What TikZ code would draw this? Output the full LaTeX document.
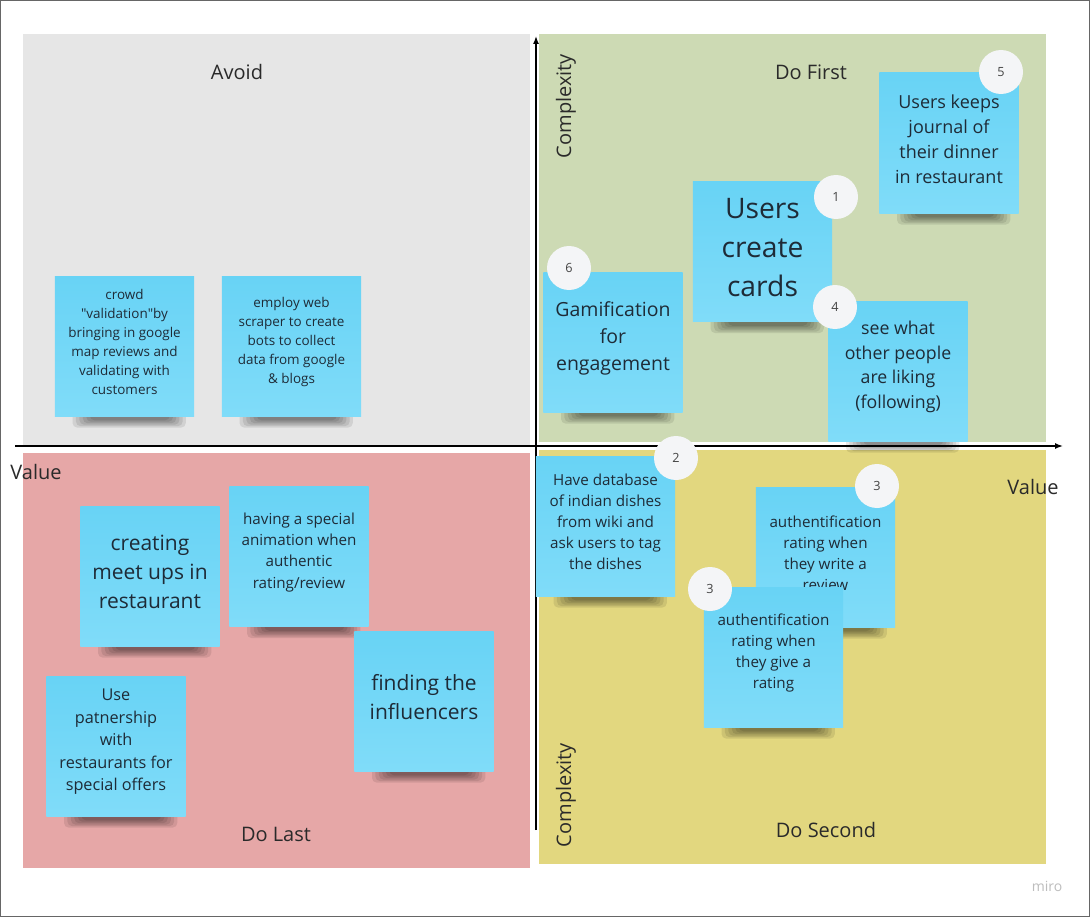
\documentclass[tikz,border=0pt]{standalone}
\usepackage{fontspec}
\setmainfont{Open Sans}
\usetikzlibrary{arrows.meta}
\pgfdeclarelayer{bglayer}
\pgfdeclarelayer{shadowlayer}
\pgfsetlayers{bglayer,shadowlayer,main}
\definecolor{avoidbg}{HTML}{E6E6E6}
\definecolor{firstbg}{HTML}{CDDAB4}
\definecolor{lastbg}{HTML}{E6A7A7}
\definecolor{secondbg}{HTML}{E2D77F}
\definecolor{notetop}{HTML}{68D3F5}
\definecolor{notebot}{HTML}{80DCF9}
\definecolor{notetxt}{HTML}{1E2B37}
\definecolor{labeltxt}{HTML}{2A2A2A}
\definecolor{badgefill}{HTML}{F4F5F7}
\definecolor{badgetxt}{HTML}{444444}
\definecolor{mirogray}{HTML}{BDBDBD}
\definecolor{framegray}{HTML}{666666}
\tikzset{
  note/.style={rectangle, inner sep=0pt, minimum width=104.5pt, minimum height=105pt,
    top color=notetop, bottom color=notebot, draw=none},
  notetext/.style={align=center, text=notetxt, inner sep=0pt},
  badge/.style={circle, fill=badgefill, minimum size=33pt, inner sep=0pt,
    text=badgetxt, font=\fontsize{9.5}{11}\selectfont},
  quadlabel/.style={text=labeltxt, inner sep=0pt, font=\fontsize{15}{18}\selectfont},
  axisline/.style={black, line width=1.1pt},
}
\newcommand{\sticky}[6]{%
  \node[note] (#1) at (#2,#3) {};
  \begin{pgfonlayer}{shadowlayer}
    \foreach \k in {0,...,5}{%
      \fill[black, opacity=0.09, rounded corners=3.5pt]
        ([xshift={-39pt+2.6pt*\k}, yshift=3pt]#1.south) rectangle
        ([xshift={46pt-2.4pt*\k}, yshift={-8.5pt+1.1pt*\k}]#1.south);
    }
  \end{pgfonlayer}
  \node[notetext, font=\fontsize{#4}{#5}\selectfont] at ([yshift=3pt]#1.center) {#6};
}
\begin{document}
\begin{tikzpicture}[x=0.75pt, y=-0.75pt]
\useasboundingbox (0,0) rectangle (1090,917);
\begin{pgfonlayer}{bglayer}
  \fill[white] (0,0) rectangle (1090,917);
  \draw[framegray, line width=1.1pt] (0.7,0.7) rectangle (1089.3,916.3);
  \fill[avoidbg] (23,34) rectangle (530,445);
  \fill[firstbg] (539,34) rectangle (1046,442);
  \fill[lastbg] (23,453) rectangle (530,868);
  \fill[secondbg] (539,450) rectangle (1046,864);
\end{pgfonlayer}

% axes
\coordinate (hstart) at (15,446);
\coordinate (hend) at (1063,446);
\coordinate (vstart) at (536,830);
\coordinate (vend) at (536,36);
\draw[axisline, -{Latex[length=6pt,width=4.5pt]}] (hstart) -- (hend);
\draw[axisline, -{Latex[length=6pt,width=4.5pt]}] (vstart) -- (vend);

% quadrant labels
\node[quadlabel] (lavoid) at (237,72) {Avoid};
\node[quadlabel] (lfirst) at (811,72) {Do First};
\node[quadlabel] (llast) at (276,834) {Do Last};
\node[quadlabel] (lsecond) at (826,830) {Do Second};
\node[quadlabel] (lvalueL) at (36,472) {Value};
\node[quadlabel] (lvalueR) at (1033,487) {Value};
\node[quadlabel, rotate=90] (lcomplexU) at (566,106) {Complexity};
\node[quadlabel, rotate=90] (lcomplexD) at (566,795) {Complexity};
\node[text=mirogray, inner sep=0pt, font=\fontsize{10.5}{12}\selectfont] (miro) at (1047,886) {miro};

% sticky notes
\sticky{n1}{124.5}{346}{10.1}{14.2}{crowd\\\textquotedbl validation\textquotedbl by\\bringing in google\\map reviews and\\validating with\\customers}
\sticky{n2}{291.5}{346}{10.1}{14.2}{employ web\\scraper to create\\bots to collect\\data from google\\\& blogs}
\sticky{n3}{762.5}{251.5}{21.2}{29.2}{Users\\create\\cards}
\sticky{n4}{613}{342}{14.6}{20.2}{Gamification\\for\\engagement}
\sticky{n5}{949}{143}{13.5}{18.7}{Users keeps\\journal of\\their dinner\\in restaurant}
\sticky{n6}{898}{371}{13.3}{18.4}{see what\\other people\\are liking\\(following)}
\sticky{n7}{605.5}{526}{11.4}{15.8}{Have database\\of indian dishes\\from wiki and\\ask users to tag\\the dishes}
\sticky{n8}{825.5}{557}{11.4}{15.8}{authentification\\rating when\\they write a\\review}
\sticky{n9}{773.5}{657}{11.4}{15.8}{authentification\\rating when\\they give a\\rating}
\sticky{n10}{150}{576}{15.75}{21.8}{creating\\meet ups in\\restaurant}
\sticky{n11}{299}{556.5}{11.4}{15.8}{having a special\\animation when\\authentic\\rating/review}
\sticky{n12}{424}{701}{15.75}{21.8}{finding the\\influencers}
\sticky{n13}{116}{746}{12.2}{16.9}{Use\\patnership\\with\\restaurants for\\special offers}

% badges
\node[badge] (b1) at (836,197) {1};
\node[badge] (b5) at (1001,72) {5};
\node[badge] (b6) at (569,268) {6};
\node[badge] (b4) at (835,307) {4};
\node[badge] (b2) at (676,458) {2};
\node[badge] (b3a) at (877,486) {3};
\node[badge] (b3b) at (710,589) {3};
\end{tikzpicture}
\end{document}
